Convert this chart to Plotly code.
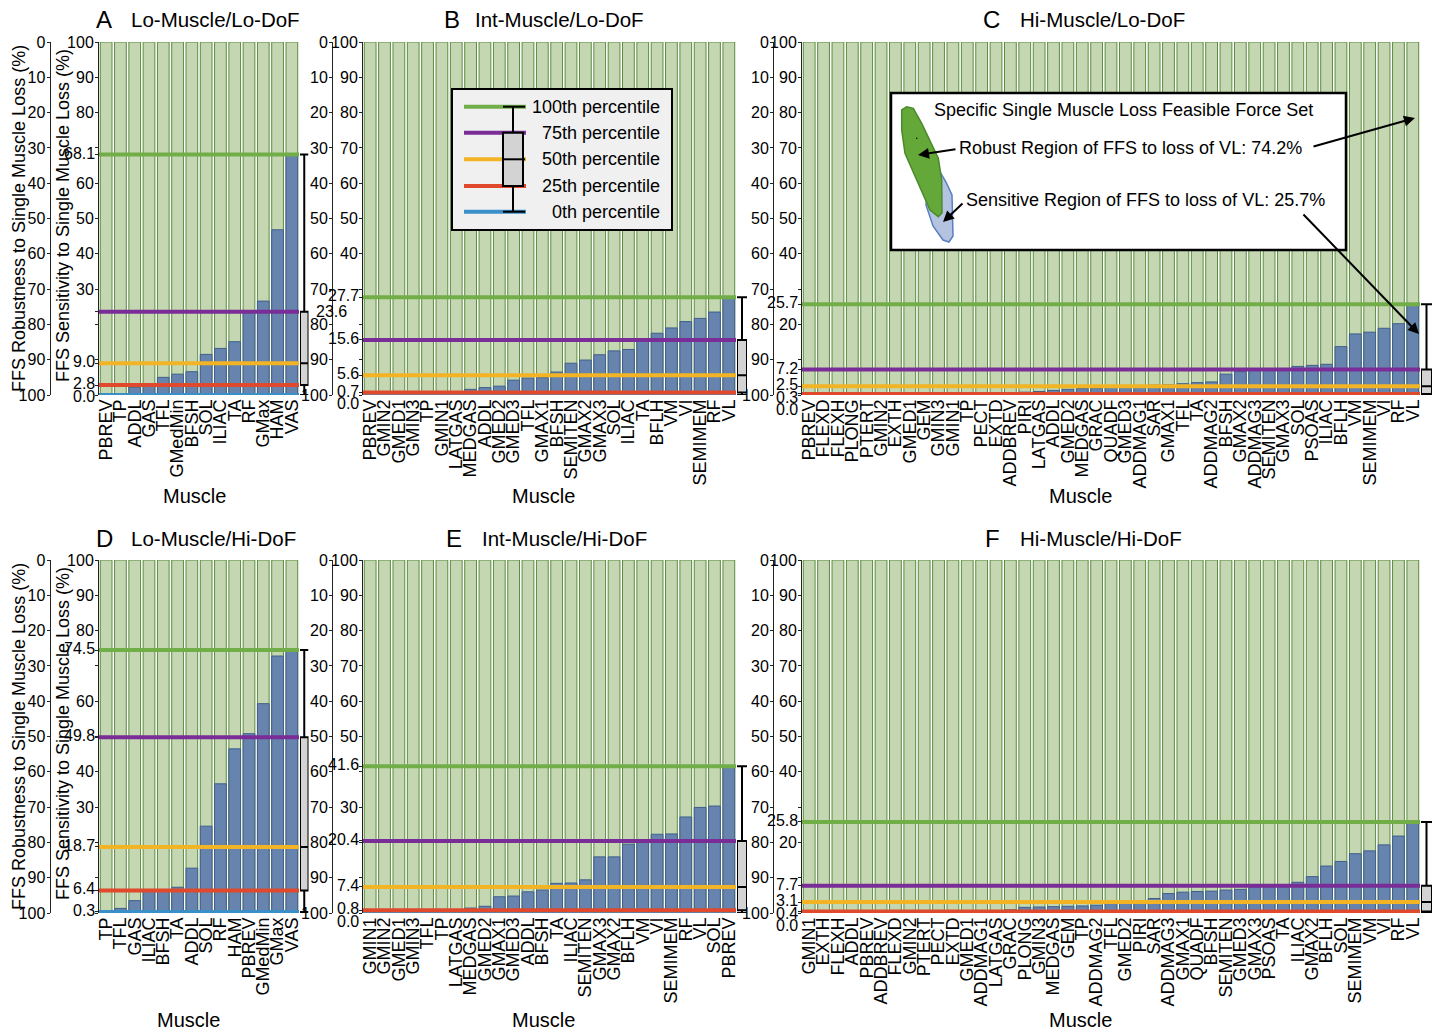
import plotly.graph_objects as go

# ------------------------------------------------------------------ data
A_muscles = ["PBREV", "TP", "ADDL", "GAS", "TFL", "GMedMin", "BFSH", "SOL", "ILIAC", "TA", "RF", "GMax", "HAM", "VAS"]
A_vals = [0.0, 0.0, 2.2, 2.8, 5.0, 5.9, 6.6, 11.5, 13.2, 15.1, 23.6, 26.6, 46.8, 68.1]
A_pct = [0.0, 2.8, 9.0, 23.6, 68.1]

B_muscles = ["PBREV", "GMIN2", "GMED1", "GMIN3", "TP", "GMIN1", "LATGAS", "MEDGAS", "ADDL", "GMED2", "GMED3",
             "TFL", "GMAX1", "BFSH", "SEMITEN", "GMAX2", "GMAX3", "SOL", "ILIAC", "TA", "BFLH", "VM", "VI",
             "SEMIMEM", "RF", "VL"]
B_vals = [0.0, 0.0, 0.0, 0.0, 0.0, 0.0, 0.3, 1.6, 2.1, 2.5, 4.2, 4.8, 4.9, 6.5, 9.0, 9.9, 11.4, 12.5, 12.9,
          15.6, 17.5, 19.0, 20.8, 21.7, 23.5, 27.7]
B_pct = [0.0, 0.7, 5.6, 15.6, 27.7]

C_muscles = ["PBREV", "FLEXD", "FLEXH", "PLONG", "PTERT", "GMIN2", "EXTH", "GMED1", "GEM", "GMIN3", "GMIN1", "TP",
             "PECT", "EXTD", "ADDBREV", "PIRI", "LATGAS", "ADDL", "GMED2", "MEDGAS", "GRAC", "QUADF", "GMED3",
             "ADDMAG1", "SAR", "GMAX1", "TFL", "TA", "ADDMAG2", "BFSH", "GMAX2", "ADDMAG3", "SEMITEN", "GMAX3",
             "SOL", "PSOAS", "ILIAC", "BFLH", "VM", "SEMIMEM", "VI", "RF", "VL"]
C_vals = [0.0, 0.05, 0.1, 0.1, 0.15, 0.2, 0.2, 0.25, 0.25, 0.3, 0.3, 0.3, 0.4, 0.5, 0.6, 0.8, 1.0, 1.3, 1.6,
          1.8, 2.0, 2.5, 2.6, 2.7, 2.8, 2.9, 3.2, 3.5, 3.7, 5.9, 6.6, 7.0, 7.3, 7.4, 8.1, 8.4, 8.7, 13.7, 17.3,
          17.8, 18.9, 20.2, 25.7]
C_pct = [0.0, 0.3, 2.5, 7.2, 25.7]

D_muscles = ["TP", "TFL", "GAS", "ILIAC", "BFSH", "TA", "ADDL", "SOL", "RF", "HAM", "PBREV", "GMedMin", "GMax", "VAS"]
D_vals = [0.3, 1.3, 3.5, 6.2, 6.6, 7.3, 12.7, 24.6, 36.6, 46.5, 50.8, 59.3, 72.8, 74.5]
D_pct = [0.3, 6.4, 18.7, 49.8, 74.5]

E_muscles = ["GMIN1", "GMIN2", "GMED1", "GMIN3", "TFL", "TP", "LATGAS", "MEDGAS", "GMED2", "GMAX1", "GMED3",
             "ADDL", "BFSH", "TA", "ILIAC", "SEMITEN", "GMAX3", "GMAX2", "BFLH", "VM", "VI", "SEMIMEM", "RF",
             "VL", "SOL", "PBREV"]
E_vals = [0.0, 0.0, 0.0, 0.0, 0.0, 0.0, 0.2, 1.4, 1.9, 4.6, 4.8, 6.0, 6.5, 8.4, 8.5, 9.4, 15.9, 15.9, 19.5,
          20.6, 22.3, 22.4, 27.2, 29.9, 30.3, 41.6]
E_pct = [0.0, 0.8, 7.4, 20.4, 41.6]

F_muscles = ["GMIN1", "EXTH", "FLEXH", "ADDL", "PBREV", "ADDBREV", "FLEXD", "GMIN2", "PTERT", "PECT", "EXTD",
             "GMED1", "ADDMAG1", "LATGAS", "GRAC", "PLONG", "GMIN3", "MEDGAS", "GEM", "TP", "ADDMAG2", "TFL",
             "GMED2", "PIRI", "SAR", "ADDMAG3", "GMAX1", "QUADF", "BFSH", "SEMITEN", "GMED3", "GMAX3", "PSOAS",
             "TA", "ILIAC", "GMAX2", "BFLH", "SOL", "SEMIMEM", "VM", "VI", "RF", "VL"]
F_vals = [0.0, 0.05, 0.1, 0.1, 0.15, 0.2, 0.2, 0.25, 0.3, 0.35, 0.4, 0.4, 0.5, 0.7, 0.9, 1.6, 1.7, 1.8, 1.9,
          2.0, 2.2, 3.1, 3.3, 3.5, 4.1, 5.5, 5.9, 6.1, 6.2, 6.5, 6.7, 7.4, 7.9, 8.0, 8.7, 10.3, 13.3, 14.6,
          16.8, 17.6, 19.3, 21.8, 25.8]
F_pct = [0.0, 0.4, 3.1, 7.7, 25.8]

FFS_TOTAL = 100.0
panel_letters = ["A", "B", "C", "D", "E", "F"]
panel_titles = ["Lo-Muscle/Lo-DoF", "Int-Muscle/Lo-DoF", "Hi-Muscle/Lo-DoF",
                "Lo-Muscle/Hi-DoF", "Int-Muscle/Hi-DoF", "Hi-Muscle/Hi-DoF"]
pct_names = ["0th percentile", "25th percentile", "50th percentile", "75th percentile", "100th percentile"]
robust_ticks = [0, 10, 20, 30, 40, 50, 60, 70, 80, 90, 100]
sens_ticks = [0, 10, 20, 30, 40, 50, 60, 70, 80, 90, 100]
x_title = "Muscle"
robust_title = "FFS Robustness to Single Muscle Loss (%)"
sens_title = "FFS Sensitivity to Single Muscle Loss (%)"
inset_title = "Specific Single Muscle Loss Feasible Force Set"
robust_frac = 74.2
sens_frac = 25.7

# ------------------------------------------------------------------ style
W, H = 1439, 1034
FONT = "Liberation Sans, Arial, Helvetica, sans-serif"
TICK_FONT = "Liberation Sans Narrow, Arial Narrow, Liberation Sans, Arial, sans-serif"
GREEN_FILL = "#c4d7b2"
GREEN_EDGE = "#5b8c3e"
BLUE_FILL = "#6684ae"
BLUE_EDGE = "#3f5f8a"
PCT_COLORS = ["#3a8fc8", "#e0492b", "#f2b324", "#7a2c97", "#72ae48"]
AX = "#222222"
TICK_SIZE = 16


def fx(p):
    return p / W


def fy(p):
    return 1 - p / H


# per-panel geometry (pixels): x0, x1, box0, box1, outer axis x, top, bottom,
# letter x, title x, title y, "Muscle" x, "Muscle" y
geo = [
    (99, 299, 300, 308.5, 49.5, 42, 395, 104, 129, 20, 195, 496),
    (363, 736, 737, 747, 332, 42, 395, 452, 473, 20, 543, 496),
    (802, 1420, 1421, 1432, 773, 42, 395, 991, 1018, 20, 1080, 496),
    (99, 299, 300, 308.5, 49.5, 560, 913, 104, 129, 538, 188, 1020),
    (363, 736, 737, 747, 332, 560, 913, 454, 480, 538, 543, 1020),
    (802, 1420, 1421, 1432, 773, 560, 913, 993, 1018, 538, 1080, 1020),
]

data = [(A_muscles, A_vals, A_pct), (B_muscles, B_vals, B_pct), (C_muscles, C_vals, C_pct),
        (D_muscles, D_vals, D_pct), (E_muscles, E_vals, E_pct), (F_muscles, F_vals, F_pct)]
hidden_pct_label = {0: [3]}   # panel A: 75th-percentile label drawn beside the next panel

fig = go.Figure()
layout = dict(width=W, height=H, margin=dict(l=0, r=0, t=0, b=0), template="none",
              paper_bgcolor="white", plot_bgcolor="rgba(0,0,0,0)", barmode="overlay",
              showlegend=False, font=dict(family=FONT, color="black"))
shapes, annotations = [], []

for i, ((muscles, vals, pct), g) in enumerate(zip(data, geo)):
    k = i + 1
    x0, x1, b0, b1, outer, top, bot, lx, tx, ty, mx, my = g
    xa = "x" if k == 1 else f"x{k}"
    ya = "y" if k == 1 else f"y{k}"
    xo = f"x{k + 6}"
    yo = f"y{k + 6}"
    n = len(muscles)

    fig.add_trace(go.Bar(x=muscles, y=[FFS_TOTAL] * n, xaxis=xa, yaxis=ya, width=0.82,
                         marker=dict(color=GREEN_FILL, line=dict(color=GREEN_EDGE, width=1)),
                         hoverinfo="skip"))
    fig.add_trace(go.Bar(x=muscles, y=vals, xaxis=xa, yaxis=ya, width=0.82,
                         marker=dict(color=BLUE_FILL, line=dict(color=BLUE_EDGE, width=1))))
    fig.add_trace(go.Scatter(x=muscles, y=[FFS_TOTAL - v for v in vals], xaxis=xa, yaxis=yo,
                             mode="markers", marker=dict(opacity=0, size=1), hoverinfo="skip"))
    fig.add_trace(go.Box(x=[0], q1=[pct[1]], median=[pct[2]], q3=[pct[3]],
                         lowerfence=[pct[0]], upperfence=[pct[4]], xaxis=xo, yaxis=ya,
                         width=1, whiskerwidth=1, boxpoints=False, fillcolor="#d3d3d3",
                         line=dict(color="black", width=2)))

    # inner (sensitivity) ticks: round values, labels hidden when close to a percentile
    tv, tt = [], []
    for t in sens_ticks:
        tv.append(t)
        tt.append("" if any(abs(t - p) < 5 for p in pct) else str(t))
    for p in pct:
        tv.append(p)
        tt.append("")

    # percentile labels, nudged apart when crowded
    order = sorted(range(5), key=lambda j: -pct[j])
    prev = None
    for j in order:
        if j in hidden_pct_label.get(i, []):
            continue
        nat = bot - pct[j] / 100.0 * (bot - top)
        pos = nat if prev is None else max(nat, prev + 12.5)
        prev = pos
        annotations.append(dict(text=f"{pct[j]:.1f}", x=fx(x0 - 2), y=pct[j], xref="paper", yref=ya,
                                yshift=-(pos - 1.5 - nat), showarrow=False, xanchor="right",
                                yanchor="middle", font=dict(family=TICK_FONT, size=TICK_SIZE)))

    axfont = dict(family=TICK_FONT, size=TICK_SIZE, color="black")
    layout["xaxis" if k == 1 else f"xaxis{k}"] = dict(
        domain=[fx(x0), fx(x1)], anchor=ya, type="category", range=[-0.5, n - 0.5],
        tickmode="array", tickvals=muscles, ticktext=muscles, tickangle=-90,
        tickfont=dict(family=FONT, size=18, color="black"), showline=False, ticks="",
        showgrid=False, zeroline=False, automargin=False)
    layout["yaxis" if k == 1 else f"yaxis{k}"] = dict(
        domain=[fy(bot), fy(top)], anchor=xa, range=[0, 100], tickmode="array",
        tickvals=tv, ticktext=tt, ticks="outside", ticklen=3, tickwidth=1, tickcolor=AX,
        ticklabelstandoff=-2,
        showline=True, linecolor=AX, linewidth=1, tickfont=axfont, showgrid=False,
        zeroline=False, automargin=False)
    layout[f"yaxis{k + 6}"] = dict(
        overlaying=ya, anchor="free", position=fx(outer), side="left", range=[100, 0],
        tickmode="array", tickvals=robust_ticks, ticktext=[str(t) for t in robust_ticks],
        ticks="outside", ticklen=3, tickwidth=1, tickcolor=AX, ticklabelstandoff=-2,
        showline=True, linecolor=AX,
        linewidth=1, tickfont=axfont, showgrid=False, zeroline=False, automargin=False)
    layout[f"xaxis{k + 6}"] = dict(domain=[fx(b0), fx(b1)], anchor=ya, range=[-0.5, 0.5],
                                   visible=False, automargin=False)

    for j, p in enumerate(pct):
        shapes.append(dict(type="line", xref=f"{xa} domain", yref=ya, x0=0, x1=1, y0=p, y1=p,
                           line=dict(color=PCT_COLORS[j], width=4), layer="above"))

    annotations.append(dict(text=panel_letters[i], x=fx(lx), y=fy(ty), xref="paper", yref="paper",
                            showarrow=False, font=dict(size=24), xanchor="center", yanchor="middle"))
    annotations.append(dict(text=panel_titles[i], x=fx(tx), y=fy(ty), xref="paper", yref="paper",
                            showarrow=False, font=dict(size=20.5), xanchor="left", yanchor="middle"))
    annotations.append(dict(text=x_title, x=fx(mx), y=fy(my), xref="paper", yref="paper",
                            showarrow=False, font=dict(size=20), xanchor="center", yanchor="middle"))

# displaced 75th percentile label of panel A
annotations.append(dict(text=f"{A_pct[3]:.1f}", x=fx(331), y=A_pct[3], xref="paper", yref="y",
                        showarrow=False, font=dict(family=TICK_FONT, size=TICK_SIZE),
                        xanchor="center", yanchor="middle"))

# y-axis titles (panels A and D)
for cy in (219, 737):
    annotations.append(dict(text=robust_title, x=fx(19), y=fy(cy), xref="paper", yref="paper",
                            showarrow=False, textangle=-90, font=dict(size=18),
                            xanchor="center", yanchor="middle"))
    annotations.append(dict(text=sens_title, x=fx(63), y=fy(cy - 3), xref="paper", yref="paper",
                            showarrow=False, textangle=-90, font=dict(size=18),
                            xanchor="center", yanchor="middle"))

# ---------------- legend inset (panel B)
shapes.append(dict(type="rect", xref="paper", yref="paper", x0=fx(452), x1=fx(672), y0=fy(230), y1=fy(89),
                   fillcolor="#f0f0f0", line=dict(color="black", width=2), layer="above"))
leg_y = [211.7, 186, 159.3, 132.7, 106.7]   # 0th .. 100th
for j in range(5):
    shapes.append(dict(type="line", xref="paper", yref="paper", x0=fx(464), x1=fx(526),
                       y0=fy(leg_y[j]), y1=fy(leg_y[j]), line=dict(color=PCT_COLORS[j], width=4),
                       layer="above"))
    annotations.append(dict(text=pct_names[j], x=fx(662), y=fy(leg_y[j]), xref="paper", yref="paper",
                            showarrow=False, font=dict(size=18), xanchor="right", yanchor="middle"))
shapes.append(dict(type="line", xref="paper", yref="paper", x0=fx(513), x1=fx(513), y0=fy(211.7),
                   y1=fy(106.7), line=dict(color="black", width=2), layer="above"))
shapes.append(dict(type="rect", xref="paper", yref="paper", x0=fx(503), x1=fx(523), y0=fy(186),
                   y1=fy(132.7), fillcolor="#d3d3d3", line=dict(color="black", width=2), layer="above"))
for yy in (159.3, 106.7, 211.7):
    shapes.append(dict(type="line", xref="paper", yref="paper", x0=fx(503), x1=fx(525), y0=fy(yy),
                       y1=fy(yy), line=dict(color="black", width=2), layer="above"))

# ---------------- feasible force set inset (panel C)
shapes.append(dict(type="rect", xref="paper", yref="paper", x0=fx(891), x1=fx(1346), y0=fy(250), y1=fy(93),
                   fillcolor="white", line=dict(color="black", width=2.5), layer="above"))


def poly(pts):
    return "M " + " L ".join(f"{fx(a):.5f},{fy(b):.5f}" for a, b in pts) + " Z"


blue_poly = [(933, 160), (946, 182), (952, 195), (953, 236), (949, 242), (943, 240), (933, 226),
             (926, 205), (928, 180)]
green_poly = [(901.7, 110), (906.7, 106.7), (913.3, 108.3), (921.7, 123.3), (938.3, 158.3), (941.7, 180),
              (942, 213), (938.3, 216.7), (930, 210), (916.7, 180), (905, 153.3), (901.7, 130)]
shapes.append(dict(type="path", xref="paper", yref="paper", path=poly(blue_poly), fillcolor="#b4c4e0",
                   line=dict(color="#5a7fc0", width=1.5), layer="above"))
shapes.append(dict(type="path", xref="paper", yref="paper", path=poly(green_poly), fillcolor="#64a83a",
                   line=dict(color="#4a8a2a", width=1.5), layer="above"))
shapes.append(dict(type="circle", xref="paper", yref="paper", x0=fx(916), x1=fx(917.5), y0=fy(139),
                   y1=fy(137.5), fillcolor="black", line=dict(color="black", width=0), layer="above"))

annotations.append(dict(text=inset_title, x=fx(1123), y=fy(110), xref="paper", yref="paper",
                        showarrow=False, font=dict(size=18), xanchor="center", yanchor="middle"))
annotations.append(dict(text=f"Robust Region of FFS to loss of VL: {robust_frac:.1f}%", x=fx(957), y=fy(148),
                        xref="paper", yref="paper", showarrow=False, font=dict(size=18),
                        xanchor="left", yanchor="middle"))
annotations.append(dict(text=f"Sensitive Region of FFS to loss of VL: {sens_frac:.1f}%", x=fx(964),
                        y=fy(200), xref="paper", yref="paper", showarrow=False, font=dict(size=18),
                        xanchor="left", yanchor="middle"))

arrows = [((957, 149), (918, 155)), ((964, 202), (943, 222)), ((1312, 147), (1415, 118)),
          ((1302, 213), (1419, 334))]
for (tx_, ty_), (hx, hy) in arrows:
    annotations.append(dict(text="", x=fx(hx), y=fy(hy), xref="paper", yref="paper", showarrow=True,
                            ax=tx_ - hx, ay=ty_ - hy, arrowhead=2, arrowsize=1.1, arrowwidth=2,
                            arrowcolor="black"))

layout["shapes"] = shapes
layout["annotations"] = annotations
fig.update_layout(**layout)

fig.write_html("out.html", include_plotlyjs=True, full_html=True, config={"displayModeBar": False},
               post_script="document.body.style.margin='0';document.body.style.overflow='hidden';")
